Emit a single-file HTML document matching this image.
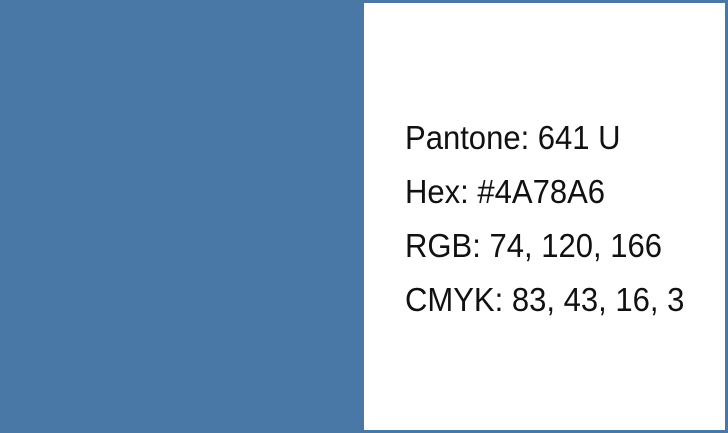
<!DOCTYPE html>
<html><head><style>
html,body{margin:0;padding:0;}
body{width:728px;height:433px;background:#4A78A6;position:relative;overflow:hidden;}
.box{position:absolute;left:364px;top:3px;width:361px;height:427px;background:#fff;}
.t{position:absolute;left:405px;font-family:"Liberation Sans",sans-serif;font-size:33px;color:#111;line-height:1;white-space:nowrap;transform:scaleX(0.94);transform-origin:0 0;}
</style></head><body>
<div class="box"></div>
<div class="t" style="top:121px">Pantone: 641 U</div>
<div class="t" style="top:175px">Hex: #4A78A6</div>
<div class="t" style="top:229px">RGB: 74, 120, 166</div>
<div class="t" style="top:283px">CMYK: 83, 43, 16, 3</div>
</body></html>
